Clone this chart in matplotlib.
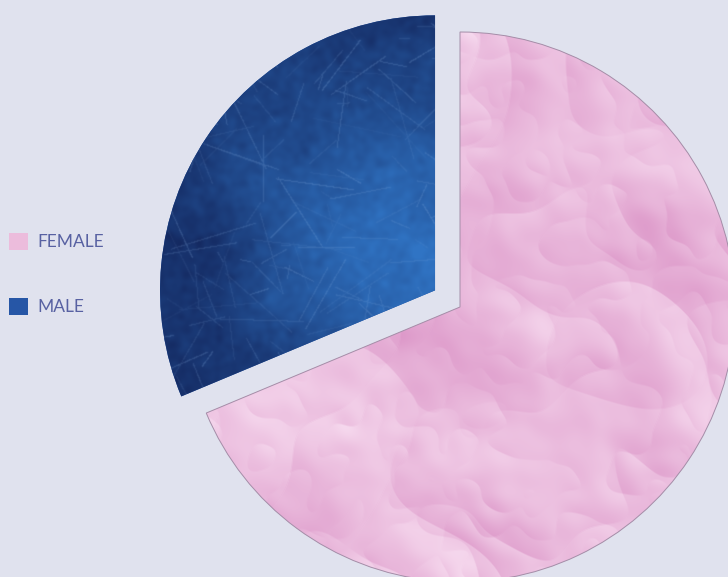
import numpy as np
import matplotlib
matplotlib.use("Agg")
import matplotlib.pyplot as plt
from matplotlib.patches import Wedge

labels = ["MALE", "FEMALE"]
shares = [31.3, 68.7]
legend_order = ["FEMALE", "MALE"]

BG = "#e0e2ee"


def blur(a, s):
    fy = np.fft.fftfreq(a.shape[0])[:, None]
    fx = np.fft.fftfreq(a.shape[1])[None, :]
    g = np.exp(-2 * (np.pi * s) ** 2 * (fx ** 2 + fy ** 2))
    return np.fft.ifft2(np.fft.fft2(a) * g).real


def norm(a):
    return (a - a.mean()) / a.std()


def crumpled_paper(n, rng):
    # ridged noise height map, lit from the upper left
    n1 = norm(blur(rng.standard_normal((n, n)), 55))
    n2 = norm(blur(rng.standard_normal((n, n)), 26))
    n3 = norm(blur(rng.standard_normal((n, n)), 10))
    h = -np.abs(n1) * 3 - np.abs(n2) * 1.0 - np.abs(n3) * 0.25
    gy, gx = np.gradient(h)
    shade = norm(gx * 0.6 - gy * 0.8)
    low = norm(blur(rng.standard_normal((n, n)), 70))
    t = np.clip(0.55 + 0.12 * shade + 0.07 * low, 0, 1)
    dark = np.array([216, 140, 194])
    light = np.array([248, 222, 241])
    return (dark + (light - dark) * t[..., None]) / 255


def scratched_blue(n, rng, hot=(260, 235)):
    yy, xx = np.mgrid[0:n, 0:n]
    d = np.hypot(xx - hot[0], yy - hot[1])
    t = np.clip(1 - d / 380, 0, 1) ** 1.2
    t = t + 0.05 * norm(blur(rng.standard_normal((n, n)), 25))
    t = t + 0.03 * norm(blur(rng.standard_normal((n, n)), 3))
    t = np.clip(t, 0, 1)
    dark = np.array([16, 30, 82])
    light = np.array([48, 116, 196])
    img = dark + (light - dark) * t[..., None]

    # faint scratches
    s = np.zeros((n, n))
    for _ in range(420):
        x0, y0 = rng.uniform(0, n, 2)
        ang = rng.uniform(0, np.pi)
        length = rng.uniform(8, 90)
        amp = rng.uniform(0.03, 0.16)
        k = np.linspace(0, length, int(length * 2))
        xs = (x0 + np.cos(ang) * k).astype(int)
        ys = (y0 + np.sin(ang) * k).astype(int)
        ok = (xs >= 0) & (xs < n) & (ys >= 0) & (ys < n)
        np.maximum.at(s, (ys[ok], xs[ok]), amp)
    s = np.clip(blur(s, 0.6) * 1.5, 0, 0.4)
    sc = np.array([140, 180, 230])
    img = img + (sc - img) * s[..., None]
    return np.clip(img / 255, 0, 1)


fig = plt.figure(figsize=(7.28, 5.77), dpi=100, facecolor=BG)
ax = fig.add_axes([0, 0, 1, 1])
ax.set_facecolor(BG)

wedges, _ = ax.pie(shares, explode=[30, 0], startangle=90, counterclock=True,
                   center=(460, 270), radius=275, frame=True,
                   colors=["#2656a6", "#ecbcdc"],
                   wedgeprops=dict(linewidth=0, zorder=1))

rng = np.random.default_rng(11)
size = 550
textures = [scratched_blue(size, rng), crumpled_paper(size, rng)]
for w, tex in zip(wedges, textures):
    cx, cy = w.center
    r = w.r
    im = ax.imshow(tex, extent=(cx - r, cx + r, cy - r, cy + r),
                   interpolation="bilinear", zorder=2)
    im.set_clip_path(w)

# thin outline round the pink slice
fw = wedges[1]
ax.add_patch(Wedge(fw.center, fw.r, fw.theta1, fw.theta2, fill=False,
                   ec="#a48ea8", lw=0.7, zorder=3))

ax.set_xlim(0, 728)
ax.set_ylim(0, 577)
ax.set_aspect("equal")
ax.axis("off")

handles = [wedges[labels.index(lab)] for lab in legend_order]
ax.legend(handles, legend_order, loc="upper left",
          bbox_to_anchor=(9 / 728, 1 - 233 / 577), frameon=False,
          prop=dict(family="Lato", size=12.5), labelcolor="#5861a2",
          handlelength=1.1, handleheight=1.1, handletextpad=0.55,
          labelspacing=2.75, borderpad=0, borderaxespad=0)

fig.savefig("out.png", dpi=100, facecolor=BG)
